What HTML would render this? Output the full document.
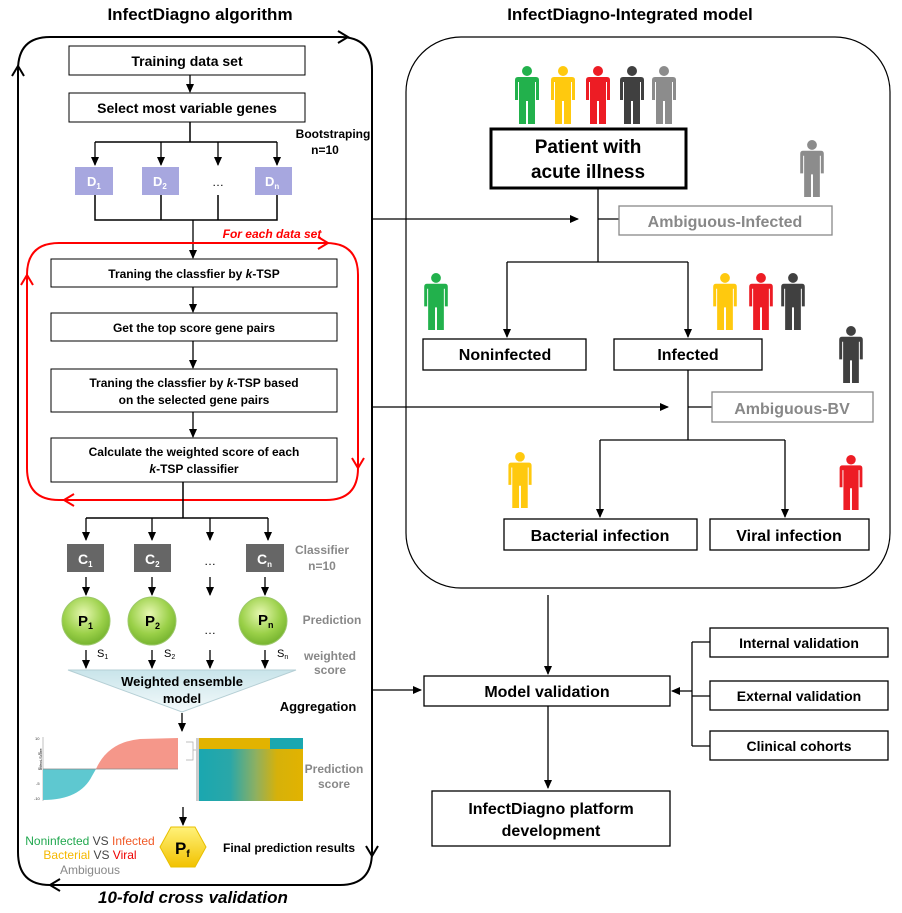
<!DOCTYPE html>
<html><head><meta charset="utf-8"><style>
html,body{margin:0;padding:0;background:#fff}
svg{display:block;font-family:"Liberation Sans",Arial,sans-serif}
.b{font-weight:bold}
</style></head><body>
<svg width="902" height="913" viewBox="0 0 902 913" xmlns="http://www.w3.org/2000/svg">
<defs>
<marker id="a" markerWidth="10" markerHeight="10" refX="8" refY="5" orient="auto" markerUnits="userSpaceOnUse"><path d="M0,1 L9,5 L0,9 z" fill="#000"/></marker>
<marker id="r" markerWidth="14" markerHeight="14" refX="10" refY="7" orient="auto" markerUnits="userSpaceOnUse"><path d="M0,1 L11,7 L0,13" fill="none" stroke="#f00" stroke-width="2"/></marker>
<marker id="k" markerWidth="14" markerHeight="14" refX="10" refY="7" orient="auto" markerUnits="userSpaceOnUse"><path d="M0,1 L11,7 L0,13" fill="none" stroke="#000" stroke-width="2"/></marker>
<radialGradient id="g" cx="0.45" cy="0.35" r="0.7"><stop offset="0" stop-color="#e6f7b0"/><stop offset="0.6" stop-color="#9ad048"/><stop offset="1" stop-color="#6fae2a"/></radialGradient>
<linearGradient id="t" x1="0" y1="0" x2="0" y2="1"><stop offset="0" stop-color="#c8e4ea"/><stop offset="1" stop-color="#f4fafb"/></linearGradient>
<linearGradient id="h" x1="0" y1="0" x2="0" y2="1"><stop offset="0" stop-color="#fff27a"/><stop offset="1" stop-color="#f2c200"/></linearGradient>
<linearGradient id="hm" x1="0" y1="0" x2="1" y2="0"><stop offset="0" stop-color="#1aa7b0"/><stop offset="0.3" stop-color="#2aa7a8"/><stop offset="0.55" stop-color="#8fb060"/><stop offset="0.75" stop-color="#d6b10a"/><stop offset="1" stop-color="#e2b300"/></linearGradient>
<symbol id="p" viewBox="0 0 24 58"><circle cx="12" cy="5" r="5"/><path d="M3,11 H21 Q24,11 24,14 V34 H21 V16 H20 V58 H13 V35 H11 V58 H4 V16 H3 V34 H0 V14 Q0,11 3,11z"/></symbol>
</defs>
<g stroke="#000" stroke-width="1.3" fill="none">
<!-- outer black loop -->
<path d="M372,830 V70 Q372,37 340,37 H50 Q18,37 18,70 V852 Q18,885 50,885 H340 Q372,885 372,852 V830" stroke-width="2"/>
</g>
<path d="M338,31 L348,37 L338,43" fill="none" stroke="#000" stroke-width="2"/>
<path d="M12,76 L18,66 L24,76" fill="none" stroke="#000" stroke-width="2"/>
<path d="M366,846 L372,856 L378,846" fill="none" stroke="#000" stroke-width="2"/>
<path d="M60,879 L50,885 L60,891" fill="none" stroke="#000" stroke-width="2"/>
<text x="200" y="20" font-size="17" class="b" text-anchor="middle">InfectDiagno algorithm</text>
<text x="630" y="20" font-size="17" class="b" text-anchor="middle">InfectDiagno-Integrated model</text>

<g stroke="#000" stroke-width="1" fill="#fff">
<rect x="69" y="46" width="236" height="29"/>
<rect x="69" y="93" width="236" height="29"/>
</g>
<text x="187" y="66" font-size="14" class="b" text-anchor="middle">Training data set</text>
<text x="187" y="113" font-size="14" class="b" text-anchor="middle">Select most variable genes</text>
<g stroke="#000" stroke-width="1.3" fill="none" marker-end="url(#a)">
<line x1="190" y1="75" x2="190" y2="92"/>
<line x1="95" y1="142" x2="95" y2="165"/><line x1="161" y1="142" x2="161" y2="165"/><line x1="218" y1="142" x2="218" y2="165"/><line x1="277" y1="142" x2="277" y2="165"/>
<line x1="193" y1="220" x2="193" y2="258"/>
</g>
<g stroke="#000" stroke-width="1.5" fill="none">
<path d="M190,122 V142 M95,142 H277"/>
<path d="M95,195 V220 H277 V195 M161,195 V220 M218,195 V220"/>
</g>
<text x="333" y="138" font-size="12" class="b" text-anchor="middle">Bootstraping</text>
<text x="325" y="154" font-size="12" class="b" text-anchor="middle">n=10</text>
<g fill="#a7a7df"><rect x="75" y="167" width="38" height="28"/><rect x="142" y="167" width="37" height="28"/><rect x="255" y="167" width="37" height="28"/></g>
<g fill="#fff" font-size="13" class="b"><text x="87" y="186">D<tspan font-size="8" dy="3">1</tspan></text><text x="153" y="186">D<tspan font-size="8" dy="3">2</tspan></text><text x="265" y="186">D<tspan font-size="8" dy="3">n</tspan></text></g>
<text x="218" y="186" font-size="12" text-anchor="middle">…</text>
<text x="272" y="238" font-size="12" class="b" font-style="italic" fill="#f00" text-anchor="middle">For each  data set</text>

<!-- red loop -->
<path d="M358,450 V275 Q358,243 326,243 H59 Q27,243 27,275 V468 Q27,500 59,500 H326 Q358,500 358,468 V450" fill="none" stroke="#f00" stroke-width="2"/>
<path d="M318,237 L328,243 L318,249" fill="none" stroke="#f00" stroke-width="2"/>
<path d="M352,458 L358,468 L364,458" fill="none" stroke="#f00" stroke-width="2"/>
<path d="M74,494 L64,500 L74,506" fill="none" stroke="#f00" stroke-width="2"/>
<path d="M21,285 L27,275 L33,285" fill="none" stroke="#f00" stroke-width="2"/>

<g stroke="#000" stroke-width="1" fill="#fff">
<rect x="51" y="259" width="286" height="28"/>
<rect x="51" y="313" width="286" height="28"/>
<rect x="51" y="369" width="286" height="43"/>
<rect x="51" y="438" width="286" height="44"/>
</g>
<g font-size="12" class="b" text-anchor="middle">
<text x="194" y="278">Traning the classfier by <tspan font-style="italic">k</tspan>-TSP</text>
<text x="194" y="332">Get the top score gene pairs</text>
<text x="194" y="387">Traning the classfier by <tspan font-style="italic">k</tspan>-TSP based</text>
<text x="194" y="404">on the selected gene pairs</text>
<text x="194" y="456">Calculate the weighted score of each</text>
<text x="194" y="473"><tspan font-style="italic">k</tspan>-TSP classifier</text>
</g>
<g stroke="#000" stroke-width="1.3" fill="none" marker-end="url(#a)">
<line x1="193" y1="287" x2="193" y2="312"/><line x1="193" y1="341" x2="193" y2="368"/><line x1="193" y1="412" x2="193" y2="437"/>
<line x1="86" y1="518" x2="86" y2="540"/><line x1="152" y1="518" x2="152" y2="540"/><line x1="210" y1="518" x2="210" y2="540"/><line x1="268" y1="518" x2="268" y2="540"/>
<line x1="86" y1="577" x2="86" y2="595"/><line x1="152" y1="577" x2="152" y2="595"/><line x1="210" y1="577" x2="210" y2="595"/><line x1="265" y1="577" x2="265" y2="595"/>
<line x1="86" y1="650" x2="86" y2="668"/><line x1="152" y1="650" x2="152" y2="668"/><line x1="210" y1="650" x2="210" y2="668"/><line x1="265" y1="650" x2="265" y2="668"/>
<line x1="182" y1="713" x2="182" y2="731"/><line x1="183" y1="807" x2="183" y2="825"/>
</g>
<path d="M183,482 V518 M86,518 H268" stroke="#000" stroke-width="1.5" fill="none"/>
<g fill="#666"><rect x="67" y="544" width="37" height="28"/><rect x="134" y="544" width="37" height="28"/><rect x="246" y="544" width="38" height="28"/></g>
<g fill="#fff" font-size="14" class="b"><text x="78" y="564">C<tspan font-size="8" dy="3">1</tspan></text><text x="145" y="564">C<tspan font-size="8" dy="3">2</tspan></text><text x="257" y="564">C<tspan font-size="8" dy="3">n</tspan></text></g>
<text x="210" y="565" font-size="12" text-anchor="middle">…</text>
<g fill="#888" font-size="12" class="b" text-anchor="middle"><text x="322" y="554">Classifier</text><text x="322" y="570">n=10</text><text x="332" y="624">Prediction</text><text x="330" y="660">weighted</text><text x="330" y="674">score</text><text x="334" y="773">Prediction</text><text x="334" y="788">score</text></g>
<g fill="url(#g)" stroke="#9cc86a" stroke-width="1"><circle cx="86" cy="621" r="24"/><circle cx="152" cy="621" r="24"/><circle cx="263" cy="621" r="24"/></g>
<g font-size="15" class="b"><text x="78" y="626">P<tspan font-size="9" dy="3">1</tspan></text><text x="145" y="626">P<tspan font-size="9" dy="3">2</tspan></text><text x="258" y="625">P<tspan font-size="9" dy="3">n</tspan></text></g>
<text x="210" y="634" font-size="12" text-anchor="middle">…</text>
<g font-size="11"><text x="97" y="657">S<tspan font-size="7" dy="2">1</tspan></text><text x="164" y="657">S<tspan font-size="7" dy="2">2</tspan></text><text x="277" y="657">S<tspan font-size="7" dy="2">n</tspan></text></g>
<path d="M68,670 L296,670 L182,712 z" fill="url(#t)" stroke="#b5cfd5"/>
<text x="182" y="686" font-size="13" class="b" text-anchor="middle">Weighted ensemble</text>
<text x="182" y="703" font-size="13" class="b" text-anchor="middle">model</text>
<text x="318" y="711" font-size="13" class="b" text-anchor="middle">Aggregation</text>
<!-- bar chart -->
<line x1="43" y1="737" x2="43" y2="801" stroke="#999" stroke-width="0.6"/>
<path d="M43,769 H95 Q90,769 90,770 L43,769 z" fill="none"/>
<path d="M43,769 L43,800 Q80,800 92,776 L96,769 z" fill="#5ec8d0"/>
<path d="M96,769 Q108,742 140,739 L178,738 L178,769 z" fill="#f5978a"/>
<line x1="43" y1="769" x2="178" y2="769" stroke="#888" stroke-width="0.8"/>
<g font-size="4" fill="#333"><text x="35" y="740">10</text><text x="38" y="755">5</text><text x="38" y="770">0</text><text x="36" y="785">-5</text><text x="34" y="800">-10</text></g>
<text x="32" y="780" font-size="4" transform="rotate(-90 32 770)">Infect-Score</text>
<!-- heatmap -->
<rect x="199" y="738" width="104" height="63" fill="url(#hm)"/>
<rect x="199" y="738" width="104" height="11" fill="#e2b300"/>
<rect x="270" y="738" width="33" height="11" fill="#1aa7b0"/>
<rect x="196" y="738" width="3" height="63" fill="#ccc"/>
<path d="M186,742 H193 V760 H186 M193,750 H196" fill="none" stroke="#aaa" stroke-width="0.7"/>
<path d="M183,826 m-23,21 l11,-20 h24 l11,20 l-11,20 h-24 z" fill="url(#h)" stroke="#e8c000"/>
<text x="175" y="854" font-size="17" class="b">P<tspan font-size="10" dy="3">f</tspan></text>
<text x="223" y="852" font-size="12" class="b">Final prediction results</text>
<g font-size="12" text-anchor="middle"><text x="90" y="845"><tspan fill="#21a84f">Noninfected</tspan> <tspan fill="#444">VS</tspan> <tspan fill="#f05a28">Infected</tspan></text>
<text x="90" y="859"><tspan fill="#f5b800">Bacterial</tspan> <tspan fill="#444">VS</tspan> <tspan fill="#e00">Viral</tspan></text>
<text x="90" y="874" fill="#888">Ambiguous</text></g>
<text x="193" y="903" font-size="17" class="b" font-style="italic" text-anchor="middle">10-fold cross validation</text>

<!-- right -->
<rect x="406" y="37" width="484" height="551" rx="55" fill="none" stroke="#000" stroke-width="1.2"/>
<use href="#p" x="515" y="66" width="24" height="58" fill="#22b14c"/>
<use href="#p" x="551" y="66" width="24" height="58" fill="#ffc90e"/>
<use href="#p" x="586" y="66" width="24" height="58" fill="#ed1c24"/>
<use href="#p" x="620" y="66" width="24" height="58" fill="#404040"/>
<use href="#p" x="652" y="66" width="24" height="58" fill="#8c8c8c"/>
<use href="#p" x="800" y="140" width="24" height="57" fill="#8c8c8c"/>
<use href="#p" x="424" y="273" width="24" height="57" fill="#22b14c"/>
<use href="#p" x="713" y="273" width="24" height="57" fill="#ffc90e"/>
<use href="#p" x="749" y="273" width="24" height="57" fill="#ed1c24"/>
<use href="#p" x="781" y="273" width="24" height="57" fill="#404040"/>
<use href="#p" x="839" y="326" width="24" height="57" fill="#404040"/>
<use href="#p" x="508" y="452" width="24" height="56" fill="#ffc90e"/>
<use href="#p" x="839" y="455" width="24" height="55" fill="#ed1c24"/>
<rect x="491" y="129" width="195" height="59" fill="#fff" stroke="#000" stroke-width="3"/>
<text x="588" y="153" font-size="19" class="b" text-anchor="middle">Patient with</text>
<text x="588" y="178" font-size="19" class="b" text-anchor="middle">acute illness</text>
<g stroke="#000" stroke-width="1.3" fill="none">
<path d="M598,188 V262 M598,219 H619 M507,262 H688"/>
<path d="M688,370 V440 M688,407 H712 M600,440 H785"/>
<path d="M692,642 V746 M692,642 H710 M692,746 H710 M692,696 H710"/>
</g>
<g stroke="#000" stroke-width="1.3" fill="none" marker-end="url(#a)">
<line x1="372" y1="219" x2="578" y2="219"/>
<line x1="507" y1="262" x2="507" y2="337"/><line x1="688" y1="262" x2="688" y2="337"/>
<line x1="372" y1="407" x2="668" y2="407"/>
<line x1="600" y1="440" x2="600" y2="517"/><line x1="785" y1="440" x2="785" y2="517"/>
<line x1="548" y1="595" x2="548" y2="674"/>
<line x1="372" y1="690" x2="421" y2="690"/>
<line x1="692" y1="691" x2="672" y2="691"/>
<line x1="548" y1="706" x2="548" y2="788"/>
</g>
<g fill="#fff" stroke="#888" stroke-width="1.3"><rect x="619" y="206" width="213" height="29"/><rect x="712" y="392" width="161" height="30"/></g>
<text x="725" y="227" font-size="16" class="b" fill="#888" text-anchor="middle">Ambiguous-Infected</text>
<text x="792" y="414" font-size="16" class="b" fill="#888" text-anchor="middle">Ambiguous-BV</text>
<g fill="#fff" stroke="#000" stroke-width="1.3">
<rect x="423" y="339" width="163" height="31"/><rect x="614" y="339" width="148" height="31"/>
<rect x="504" y="519" width="193" height="31"/><rect x="710" y="519" width="159" height="31"/>
<rect x="424" y="676" width="246" height="30"/>
<rect x="710" y="628" width="178" height="29"/><rect x="710" y="681" width="178" height="29"/><rect x="710" y="731" width="178" height="29"/>
<rect x="432" y="791" width="238" height="55"/>
</g>
<g font-size="16" class="b" text-anchor="middle">
<text x="505" y="360">Noninfected</text><text x="688" y="360">Infected</text>
<text x="600" y="541">Bacterial infection</text><text x="789" y="541">Viral infection</text>
<text x="547" y="697">Model validation</text>
<text x="551" y="814">InfectDiagno platform</text><text x="551" y="836">development</text>
</g>
<g font-size="14" class="b" text-anchor="middle">
<text x="799" y="648">Internal validation</text><text x="799" y="701">External validation</text><text x="799" y="751">Clinical cohorts</text>
</g>
</svg>
</body></html>
